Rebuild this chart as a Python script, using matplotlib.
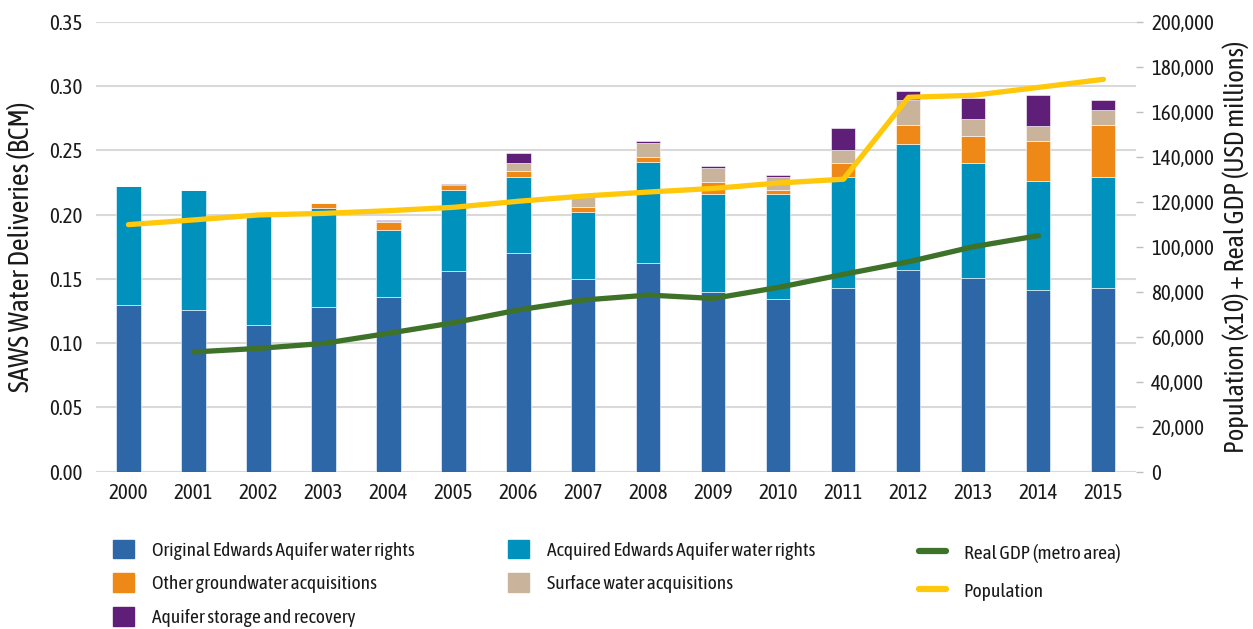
import matplotlib
matplotlib.use("Agg")
import matplotlib.pyplot as plt
import numpy as np
from matplotlib.lines import Line2D
from matplotlib.patches import Patch

years = [str(y) for y in range(2000, 2016)]

# water deliveries by source, BCM
original = [0.130, 0.126, 0.114, 0.128, 0.136, 0.156, 0.170, 0.150, 0.162, 0.140, 0.134, 0.143, 0.157, 0.151, 0.141, 0.143]
acquired = [0.092, 0.093, 0.085, 0.077, 0.052, 0.063, 0.059, 0.052, 0.079, 0.076, 0.082, 0.086, 0.098, 0.089, 0.085, 0.086]
other_gw = [0.000, 0.000, 0.000, 0.004, 0.006, 0.004, 0.005, 0.004, 0.004, 0.009, 0.003, 0.011, 0.015, 0.021, 0.031, 0.041]
surface = [0.000, 0.000, 0.000, 0.000, 0.001, 0.000, 0.006, 0.008, 0.011, 0.011, 0.010, 0.010, 0.019, 0.013, 0.012, 0.011]
asr = [0.000, 0.000, 0.000, 0.000, 0.001, 0.001, 0.008, 0.000, 0.001, 0.002, 0.002, 0.017, 0.007, 0.017, 0.024, 0.008]

population_x10 = [109800, 111900, 114100, 114800, 116000, 117500, 120200, 122500, 124300, 125900, 128300, 130000, 166400, 167300, 170800, 174400]
gdp_years = [str(y) for y in range(2001, 2015)]
real_gdp = [53200, 54800, 57000, 61500, 66200, 71900, 76300, 78500, 77000, 81900, 87700, 93300, 100000, 104900]

plt.rcParams.update({
    "font.family": ["Asap Condensed", "Fira Sans Condensed", "Roboto Condensed", "DejaVu Sans"],
    "font.size": 14,
    "text.color": "#1a1a1a",
    "axes.labelcolor": "#1a1a1a",
    "xtick.color": "#1a1a1a",
    "ytick.color": "#1a1a1a",
})

colors = {
    "orig": "#2E67A7",
    "acq": "#0091BD",
    "other": "#EE8817",
    "surf": "#C9B39B",
    "asr": "#5F1F79",
    "gdp": "#3E7228",
    "pop": "#FFC80A",
}

fig = plt.figure(figsize=(12.53, 6.29), dpi=100)
ax = fig.add_axes([0.0766, 0.2501, 0.83, 0.7154])
x = np.arange(len(years))
width = 0.37

stack = [
    (original, "orig", "Original Edwards Aquifer water rights"),
    (acquired, "acq", "Acquired Edwards Aquifer water rights"),
    (other_gw, "other", "Other groundwater acquisitions"),
    (surface, "surf", "Surface water acquisitions"),
    (asr, "asr", "Aquifer storage and recovery"),
]
bottom = np.zeros(len(years))
for vals, key, label in stack:
    ax.bar(x, vals, width=width, bottom=bottom, color=colors[key], edgecolor="#ffffff",
           linewidth=0.4, zorder=3, label=label)
    bottom += np.array(vals)

ax.set_xlim(-0.5, len(years) - 0.5)
ax.set_ylim(0, 0.35)
ax.set_yticks(np.arange(0, 0.351, 0.05))
ax.set_yticklabels([f"{v:.2f}" for v in np.arange(0, 0.351, 0.05)])
ax.set_xticks(x)
ax.set_xticklabels(years)
ax.tick_params(axis="x", length=0, pad=8, labelsize=15)
ax.tick_params(axis="y", length=0, pad=10, labelsize=15)
ax.grid(axis="y", color="#d9d9d9", linewidth=1.5, zorder=0)
ax.set_axisbelow(True)
for s in ax.spines.values():
    s.set_visible(False)
ax.set_ylabel("SAWS Water Deliveries (BCM)", fontsize=20, labelpad=10)

ax2 = ax.twinx()
ax2.set_ylim(0, 200000)
ax2.set_yticks(np.arange(0, 200001, 20000))
ax2.set_yticklabels([f"{int(v):,}" for v in np.arange(0, 200001, 20000)])
ax2.tick_params(axis="y", length=5, width=1, color="#bfbfbf", pad=6, labelsize=15)
for s in ax2.spines.values():
    s.set_visible(False)
ax2.set_ylabel("Population (x10) + Real GDP (USD millions)", fontsize=19, labelpad=6)

gdp_x = [years.index(y) for y in gdp_years]
ax2.plot(gdp_x, real_gdp, color=colors["gdp"], linewidth=3.8, solid_capstyle="round", zorder=4)
ax2.plot(x, population_x10, color=colors["pop"], linewidth=3.8, solid_capstyle="round", zorder=5)

# three legend columns placed independently
col1 = [Patch(color=colors["orig"]), Patch(color=colors["other"]), Patch(color=colors["asr"])]
col1_lbl = ["Original Edwards Aquifer water rights", "Other groundwater acquisitions", "Aquifer storage and recovery"]
col2 = [Patch(color=colors["acq"]), Patch(color=colors["surf"])]
col2_lbl = ["Acquired Edwards Aquifer water rights", "Surface water acquisitions"]
col3 = [Line2D([], [], color=colors["gdp"], linewidth=4.5, solid_capstyle="round"),
        Line2D([], [], color=colors["pop"], linewidth=4.5, solid_capstyle="round")]
col3_lbl = ["Real GDP (metro area)", "Population"]

common = dict(frameon=False, fontsize=14, borderaxespad=0, loc="upper left")
fig.legend(col1, col1_lbl, bbox_to_anchor=(105 / 1253, 1 - 532 / 629), labelspacing=0.7,
           handlelength=1.1, handleheight=1.1, handletextpad=0.93, **common)
fig.legend(col2, col2_lbl, bbox_to_anchor=(500 / 1253, 1 - 532 / 629), labelspacing=0.7,
           handlelength=1.1, handleheight=1.1, handletextpad=0.93, **common)
fig.legend(col3, col3_lbl, bbox_to_anchor=(911 / 1253, 1 - 535 / 629), labelspacing=0.95,
           handlelength=1.4, handleheight=1.1, handletextpad=0.9, **common)

fig.savefig("out.png", dpi=100)
